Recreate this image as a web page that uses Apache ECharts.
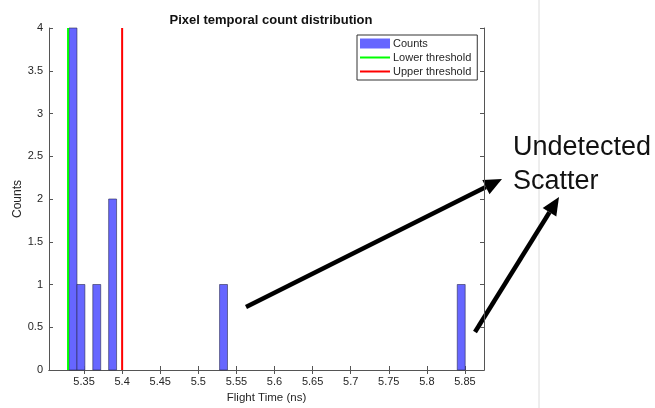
<!DOCTYPE html>
<html lang="en">
<head>
  <meta charset="UTF-8">
  <script src="https://cdn.jsdelivr.net/npm/echarts@6/dist/echarts.min.js"></script>
  <style>
    body { margin: 0; background: #ffffff; }
    #main { width: 655px; height: 408px; }
  </style>
</head>
<body>
  <div id="main"></div>
  <script>
    // histogram bins (ns) and counts
    var binLeft  = [5.3303, 5.3407, 5.3615, 5.3823, 5.5279, 5.8399];
    var binRight = [5.3407, 5.3511, 5.3719, 5.3927, 5.5383, 5.8503];
    var counts   = [4, 1, 1, 2, 1, 1];

    var lowerThreshold = 5.329;
    var upperThreshold = 5.40;

    var xTicks = [5.35, 5.4, 5.45, 5.5, 5.55, 5.6, 5.65, 5.7, 5.75, 5.8, 5.85];

    var axisColor = '#555';
    var textColor = '#262626';
    var font = '"Liberation Sans", Arial, sans-serif';
    var lineIcon = 'path://M0,0h30v2h-30z';

    var chart = echarts.init(document.getElementById('main'));

    var histData = binLeft.map(function (l, i) { return [l, binRight[i], counts[i]]; });

    // arrow helper for the annotation (pixel coords)
    function arrow(x0, y0, x1, y1) {
      var a = Math.atan2(y1 - y0, x1 - x0);
      var len = 18, half = 8;
      var bx = x1 - len * Math.cos(a), by = y1 - len * Math.sin(a);
      var nx = -Math.sin(a), ny = Math.cos(a);
      return [
        { type: 'line', shape: { x1: x0, y1: y0, x2: bx, y2: by },
          style: { stroke: '#000', lineWidth: 4.5 } },
        { type: 'polygon',
          shape: { points: [[x1, y1], [bx + nx * half, by + ny * half], [bx - nx * half, by - ny * half]] },
          style: { fill: '#000' } }
      ];
    }

    var graphics = [
      { type: 'line', shape: { x1: 539, y1: 0, x2: 539, y2: 408 },
        style: { stroke: '#dcdcdc', lineWidth: 1 } },
      { type: 'text', left: 513, top: 131,
        style: { text: 'Undetected\nScatter', fill: '#111', lineHeight: 34,
                 font: '27px "Liberation Sans", Arial, sans-serif' } }
    ].concat(arrow(246, 307, 502, 179), arrow(475, 332, 559, 197));

    var option = {
      backgroundColor: '#ffffff',
      animation: false,
      title: {
        text: 'Pixel temporal count distribution',
        left: 266, top: 9, textAlign: 'center',
        textStyle: { fontSize: 13, fontWeight: 'bold', color: '#111', fontFamily: font }
      },
      legend: {
        orient: 'vertical',
        left: 357, top: 35,
        padding: [3, 6, 3, 3],
        itemGap: 3,
        itemWidth: 30, itemHeight: 10,
        borderColor: '#333', borderWidth: 1,
        backgroundColor: '#fff',
        textStyle: { fontSize: 11, color: textColor, padding: [0, 0, 0, -2], fontFamily: font },
        data: [
          { name: 'Counts', icon: 'rect' },
          { name: 'Lower threshold', icon: lineIcon },
          { name: 'Upper threshold', icon: lineIcon }
        ]
      },
      graphic: graphics,
      grid: { left: 49, right: 171, top: 28, bottom: 38, outerBoundsMode: 'none' },
      xAxis: [{
        type: 'value',
        min: 5.304, max: 5.875,
        name: 'Flight Time (ns)',
        nameLocation: 'middle', nameGap: 22, nameMoveOverlap: false,
        nameTextStyle: { fontSize: 11.5, color: textColor, fontFamily: font },
        axisLine: { show: true, lineStyle: { color: axisColor } },
        axisTick: { show: true, inside: true, length: 4, customValues: xTicks,
                    lineStyle: { color: axisColor } },
        axisLabel: { customValues: xTicks, fontSize: 11, color: textColor, margin: 6,
                     fontFamily: font,
                     formatter: function (v) { return String(+v.toFixed(2)); } },
        splitLine: { show: false }
      }, {
        type: 'value', position: 'top',
        min: 5.304, max: 5.875,
        axisLine: { show: true, lineStyle: { color: axisColor } },
        axisTick: { show: true, inside: true, length: 4, customValues: xTicks,
                    lineStyle: { color: axisColor } },
        axisLabel: { show: false },
        splitLine: { show: false }
      }],
      yAxis: [{
        type: 'value',
        min: 0, max: 4, interval: 0.5,
        name: 'Counts',
        nameLocation: 'middle', nameGap: 25, nameMoveOverlap: false,
        nameTextStyle: { fontSize: 12, color: textColor, fontFamily: font },
        axisLine: { show: true, lineStyle: { color: axisColor } },
        axisTick: { show: true, inside: true, length: 4, lineStyle: { color: axisColor } },
        axisLabel: { fontSize: 11, color: textColor, margin: 6, fontFamily: font },
        splitLine: { show: false }
      }, {
        type: 'value', position: 'right',
        min: 0, max: 4, interval: 0.5,
        axisLine: { show: true, lineStyle: { color: axisColor } },
        axisTick: { show: true, inside: true, length: 4, lineStyle: { color: axisColor } },
        axisLabel: { show: false },
        splitLine: { show: false }
      }],
      series: [{
        name: 'Counts',
        type: 'custom',
        itemStyle: { color: '#6666ff' },
        encode: { x: [0, 1], y: 2 },
        data: histData,
        renderItem: function (params, api) {
          var p0 = api.coord([api.value(0), 0]);
          var p1 = api.coord([api.value(1), api.value(2)]);
          return {
            type: 'rect',
            shape: { x: p0[0], y: p1[1], width: p1[0] - p0[0], height: p0[1] - p1[1] },
            style: { fill: '#6666ff', stroke: '#2a2a50', lineWidth: 0.6 }
          };
        }
      }, {
        name: 'Lower threshold',
        type: 'line',
        symbol: 'none',
        lineStyle: { color: '#00ff00', width: 2 },
        itemStyle: { color: '#00ff00' },
        data: [[lowerThreshold, 0], [lowerThreshold, 4]]
      }, {
        name: 'Upper threshold',
        type: 'line',
        symbol: 'none',
        lineStyle: { color: '#ff0000', width: 2 },
        itemStyle: { color: '#ff0000' },
        data: [[upperThreshold, 0], [upperThreshold, 4]]
      }]
    };

    chart.setOption(option);
  </script>
</body>
</html>
